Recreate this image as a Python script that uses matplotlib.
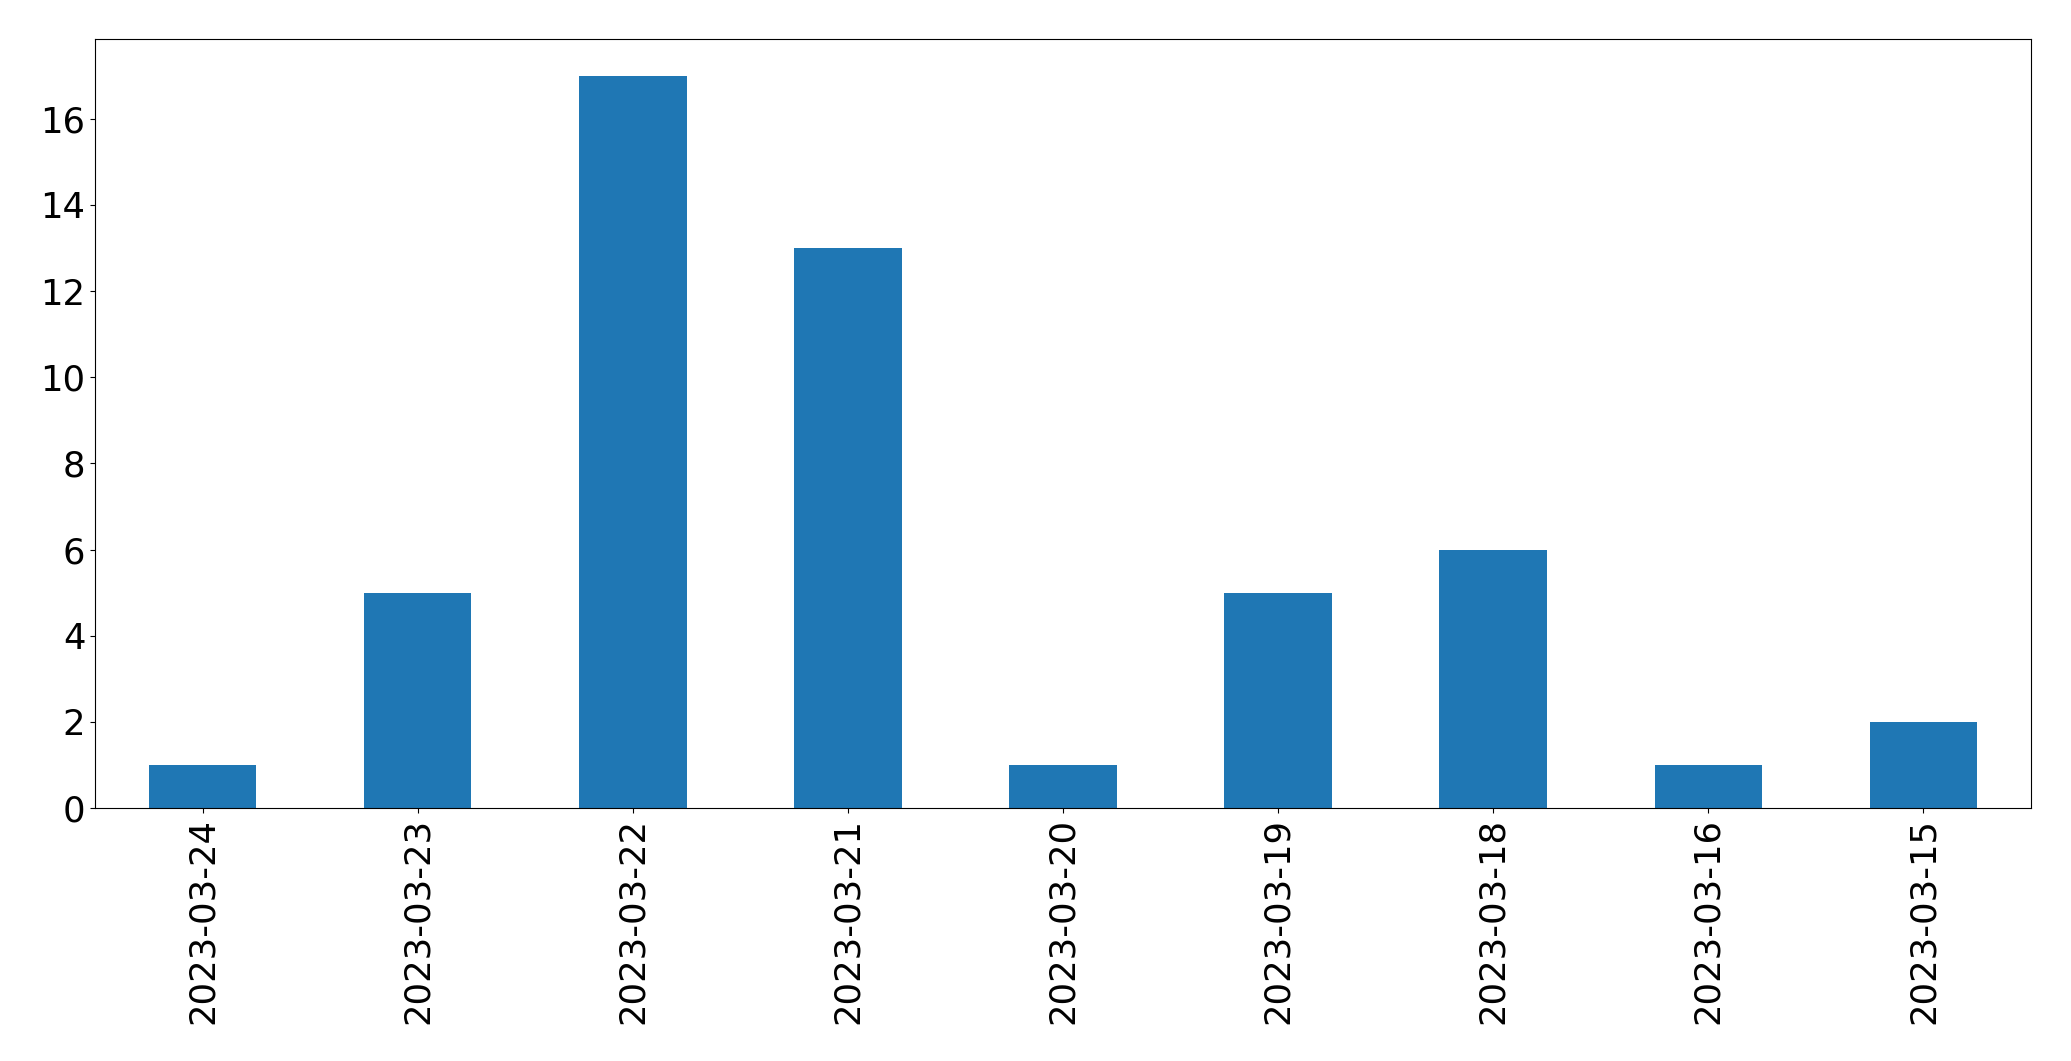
import matplotlib
matplotlib.use('Agg')
import matplotlib.pyplot as plt
import pandas as pd

# Dữ liệu
dates = ['2023-03-24', '2023-03-23', '2023-03-22', '2023-03-21', '2023-03-20',
         '2023-03-19', '2023-03-18', '2023-03-16', '2023-03-15']
counts = [1, 5, 17, 13, 1, 5, 6, 1, 2]

series = pd.Series(counts, index=dates)

fig = plt.figure(figsize=(20.71, 10.61), dpi=100)
ax = fig.add_axes([95 / 2071, 253 / 1061, 1936 / 2071, 769 / 1061])

series.plot(kind='bar', ax=ax, color='#1f77b4', width=0.5)

ax.tick_params(axis='both', labelsize=25.5)
ax.tick_params(axis='x', rotation=90)

fig.savefig('out.png', dpi=100)
